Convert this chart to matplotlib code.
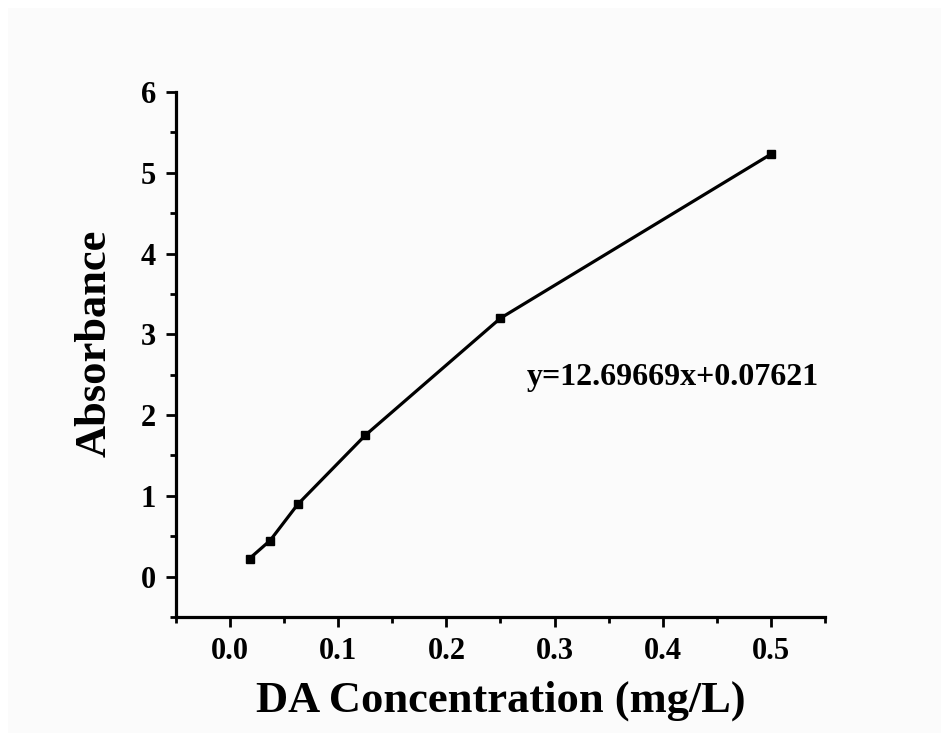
import matplotlib
matplotlib.use("Agg")
import matplotlib.pyplot as plt
from matplotlib.ticker import MultipleLocator, FormatStrFormatter
from matplotlib.patches import Rectangle

concentration = [0.018, 0.037, 0.0625, 0.125, 0.25, 0.5]
absorbance = [0.224, 0.447, 0.894, 1.75, 3.20, 5.23]
equation = "y=12.69669x+0.07621"
x_label = "DA Concentration (mg/L)"
y_label = "Absorbance"

plt.rcParams['font.family'] = ['Liberation Serif', 'DejaVu Serif']
plt.rcParams['font.weight'] = 'bold'

W, H = 941, 733
fig = plt.figure(figsize=(W / 100, H / 100), dpi=100, facecolor='white')
fig.patches.append(Rectangle((8 / W, 0), 1 - 8 / W, 1 - 8 / H, transform=fig.transFigure,
                             facecolor='#fbfbfb', edgecolor='none', zorder=-10))

ax = fig.add_axes([176 / W, 1 - 617 / H, (825 - 176) / W, (617 - 92) / H])
ax.patch.set_alpha(0)

ax.plot(concentration, absorbance, color='black', lw=2.3, marker='s', ms=6,
        solid_joinstyle='miter', clip_on=False)

ax.set_xlim(-0.05, 0.55)
ax.set_ylim(-0.5, 6)
ax.xaxis.set_major_locator(MultipleLocator(0.1))
ax.xaxis.set_minor_locator(MultipleLocator(0.05))
ax.yaxis.set_major_locator(MultipleLocator(1))
ax.yaxis.set_minor_locator(MultipleLocator(0.5))
ax.xaxis.set_major_formatter(FormatStrFormatter('%.1f'))
ax.yaxis.set_major_formatter(FormatStrFormatter('%d'))

for s in ['top', 'right']:
    ax.spines[s].set_visible(False)
for s in ['left', 'bottom']:
    ax.spines[s].set_linewidth(2.3)

ax.tick_params(which='major', direction='out', length=7.5, width=2.0, labelsize=22, pad=7)
ax.tick_params(which='minor', direction='out', length=4.5, width=2.0)
for lab in ax.get_xticklabels() + ax.get_yticklabels():
    lab.set_fontweight('bold')

ax.set_xlabel(x_label, fontsize=32, fontweight='bold', labelpad=10)
ax.set_ylabel(y_label, fontsize=32, fontweight='bold')
ax.yaxis.set_label_coords(-0.095, 0.521)

ax.text(0.2745, 2.46, equation, fontsize=23, fontweight='bold', ha='left', va='center')

fig.savefig('out.png', dpi=100, facecolor=fig.get_facecolor())
